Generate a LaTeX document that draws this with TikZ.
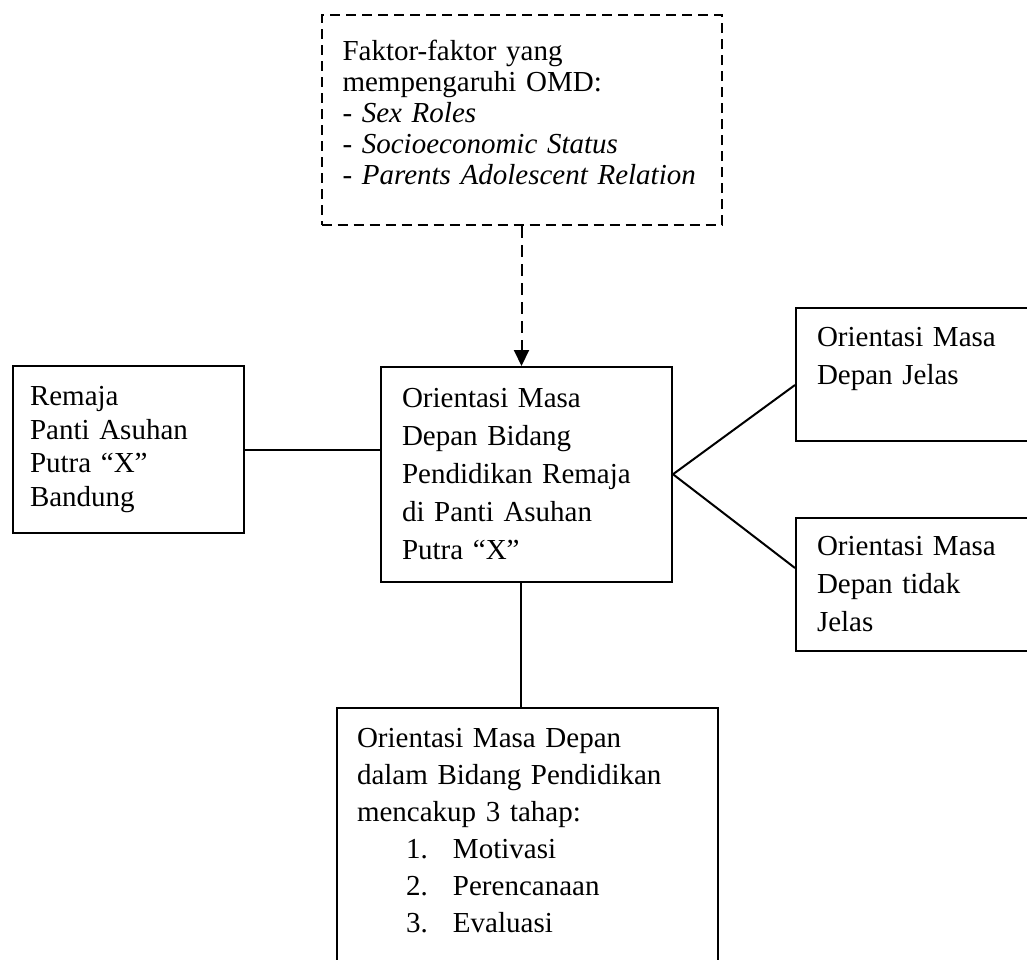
\documentclass[tikz,border=0pt]{standalone}
\usepackage{fontspec}
\setmainfont{Liberation Serif}
\usetikzlibrary{arrows.meta}

\tikzset{
  kotak/.style={draw, line width=1pt, rectangle, anchor=north west, align=left,
    inner xsep=10.5pt, inner ysep=0pt},
  putus/.style={kotak, dash pattern=on 5pt off 3pt},
  garis/.style={line width=1pt},
}
\newcommand{\teks}[1]{\fontsize{14.5pt}{#1}\selectfont}

\begin{document}
\begin{tikzpicture}[x=0.5pt,y=-0.5pt]
  \useasboundingbox (0,0) rectangle (1027,959);

  % kotak-kotak
  \node[putus, text width=179pt, minimum height=105pt, font=\teks{15.5pt}] (faktor) at (320.5,14)
    {Faktor-faktor yang\\mempengaruhi OMD:\\- \textit{Sex Roles}\\- \textit{Socioeconomic Status}\\- \textit{Parents Adolescent Relation}\\[-8pt]\mbox{}};
  \node[kotak, inner xsep=8.5pt, text width=98.5pt, minimum height=83.5pt, font=\teks{16.7pt}] (remaja) at (12,365)
    {Remaja\\Panti Asuhan\\Putra “X”\\Bandung};
  \node[kotak, text width=124.5pt, minimum height=107.25pt, font=\teks{19pt}] (omd) at (380,366)
    {Orientasi Masa\\Depan Bidang\\Pendidikan Remaja\\di Panti Asuhan\\Putra “X”};
  \node[kotak, text width=129pt, minimum height=66.5pt, font=\teks{19pt}] (jelas) at (795,307)
    {Orientasi Masa\\Depan Jelas\\\mbox{}};
  \node[kotak, text width=129pt, minimum height=66.5pt, font=\teks{19pt}] (tidak) at (795,516.5)
    {Orientasi Masa\\Depan tidak\\Jelas};
  \node[kotak, inner xsep=10pt, text width=170.5pt, minimum height=141pt, font=\teks{18.5pt}] (tahap) at (336,707)
    {Orientasi Masa Depan\\dalam Bidang Pendidikan\\mencakup 3 tahap:\\
     \hspace*{24.5pt}\makebox[23.5pt][l]{1.}Motivasi\\
     \hspace*{24.5pt}\makebox[23.5pt][l]{2.}Perencanaan\\
     \hspace*{24.5pt}\makebox[23.5pt][l]{3.}Evaluasi\\\mbox{}};

  % penghubung
  \draw[garis, dash pattern=on 6pt off 3.5pt, -{Triangle[width=7.5pt,length=8pt]}] (faktor.south) -- (faktor.south |- omd.north);
  \draw[garis] (remaja.east) -- (remaja.east -| omd.west);
  \draw[garis] (omd.east) -- ([yshift=-5.25pt]jelas.west);
  \draw[garis] (omd.east) -- ([yshift=8pt]tidak.west);
  \draw[garis] ([xshift=-2.75pt]omd.south) -- ([xshift=-2.75pt]omd.south |- tahap.north);
\end{tikzpicture}
\end{document}
